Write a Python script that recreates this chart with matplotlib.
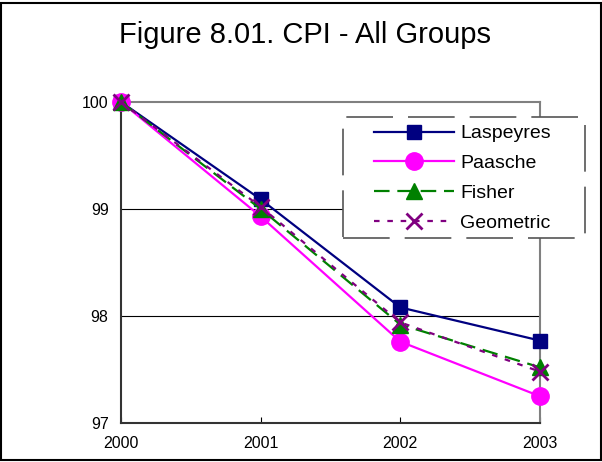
import matplotlib
matplotlib.use("Agg")
from matplotlib import pyplot as plt
from matplotlib.patches import Rectangle

years = ["2000", "2001", "2002", "2003"]
laspeyres = [100.0, 99.09, 98.08, 97.77]
paasche = [100.0, 98.93, 97.76, 97.25]
fisher = [100.0, 99.0, 97.92, 97.52]
geometric = [100.0, 99.02, 97.94, 97.48]

series = [
    {'label': 'Laspeyres', 'values': laspeyres, 'color': '#000080', 'ls': '-', 'marker': 's', 'ms': 10},
    {'label': 'Paasche', 'values': paasche, 'color': '#FF00FF', 'ls': '-', 'marker': 'o', 'ms': 12.5},
    {'label': 'Fisher', 'values': fisher, 'color': '#008000', 'ls': (0, (7, 3.5)), 'marker': '^', 'ms': 11},
    {'label': 'Geometric', 'values': geometric, 'color': '#800080', 'ls': (0, (2.5, 3.5)), 'marker': 'x', 'ms': 11},
]

plt.rcParams['font.family'] = ['Liberation Sans', 'DejaVu Sans']

fig = plt.figure(figsize=(6.02, 4.62), dpi=100)
ax = fig.add_axes([0.201, 0.0844, 0.696, 0.695])

x = list(range(len(years)))

# Grid lines first so the series sit on top
for g in [98, 99]:
    ax.axhline(g, color='black', lw=0.8, zorder=1)

for s in series:
    ax.plot(x, s['values'], color=s['color'], linestyle=s['ls'], lw=1.6,
            marker=s['marker'], markersize=s['ms'],
            markeredgewidth=2 if s['marker'] == 'x' else 1,
            label=s['label'], zorder=3, clip_on=False)

ax.set_xlim(0, 3)
ax.set_ylim(97, 100)
ax.set_xticks(x)
ax.set_xticklabels(years, fontsize=11.5)
ax.set_yticks([97, 98, 99, 100])
ax.set_yticklabels(['97', '98', '99', '100'], fontsize=11.5)
ax.tick_params(axis='x', direction='in', length=4, pad=9)
ax.tick_params(axis='y', length=0, pad=9)

for side in ['top', 'right']:
    ax.spines[side].set_color('#808080')
    ax.spines[side].set_linewidth(1.5)
for side in ['left', 'bottom']:
    ax.spines[side].set_color('#333333')
    ax.spines[side].set_linewidth(1.5)

# Legend box: white, dashed grey edge, sits over the plot area
fig.patches.append(Rectangle((0.5698, 0.4848), 0.402, 0.262, transform=fig.transFigure,
                             facecolor='white', edgecolor='#555555', lw=1.2,
                             linestyle=(0, (28, 9)), zorder=2))

handles, labels = ax.get_legend_handles_labels()
fig.legend(handles, labels, loc='upper left', bbox_to_anchor=(0.622, 0.730),
           bbox_transform=fig.transFigure, frameon=False, fontsize=14,
           handlelength=4.1, handletextpad=0.3, labelspacing=0.63,
           borderpad=0, borderaxespad=0)

fig.text(0.507, 0.924, 'Figure 8.01. CPI - All Groups', ha='center', va='center', fontsize=21)

# Outer border round the figure
fig.patches.append(Rectangle((0.002, 0.004), 0.996, 0.99, transform=fig.transFigure,
                             fill=False, edgecolor='black', lw=1.5))

plt.savefig('out.png', dpi=100)
plt.close()
